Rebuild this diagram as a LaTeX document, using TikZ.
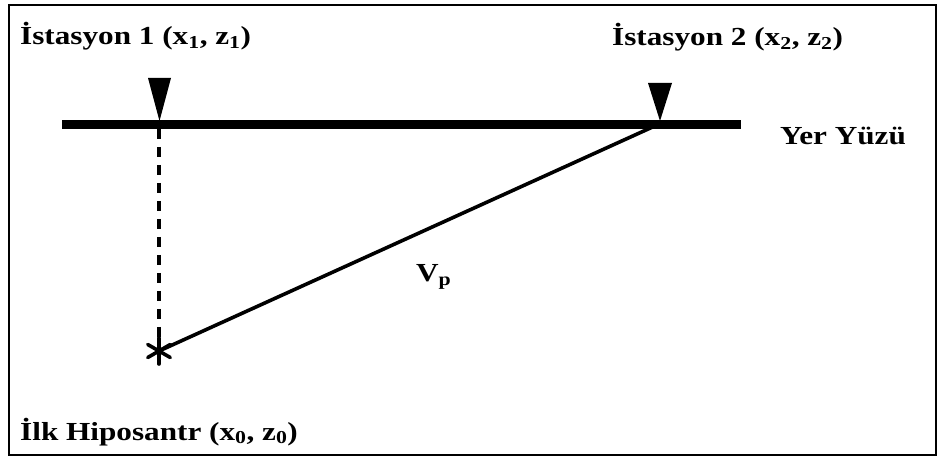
\documentclass[tikz,border=0pt]{standalone}
\usepackage{fontspec}
\setmainfont{Liberation Serif}[FakeStretch=1.2]
\usetikzlibrary{calc}
\begin{document}
\begin{tikzpicture}[x=1pt,y=-1pt,
  lbl/.style={anchor=base west,inner sep=0pt,font=\fontsize{26}{31}\selectfont\bfseries},
  ground/.style={line width=9pt},
  ray/.style={line width=3.6pt},
  vert/.style={line width=3.2pt,dash pattern=on 10pt off 8pt},
  starline/.style={line width=3.6pt,line cap=round},
  station/.style={fill=black}]
\useasboundingbox (0,0) rectangle (943,462);
\draw[line width=1.8pt] (9,5) rectangle (936,455);
% coordinates
\coordinate (gl) at (62,125);
\coordinate (gr) at (741,125);
\coordinate (s1) at (159,129);
\coordinate (s2) at (657,125);
\coordinate (h) at (159,351);
% ground line
\draw[ground] (gl) -- (gr);
% stations
\fill[station] (148,78) -- (171,78) -- (159.5,121) -- cycle;
\fill[station] (648,83) -- (672,83) -- (660,121) -- cycle;
% rays
\draw[vert] (s1) -- (h);
\draw[ray] (s2) -- (h);
% hypocentre star
\foreach \a in {90,30,150}
  \draw[starline] ($(h)+(\a:13)$) -- ($(h)+(\a+180:13)$);
% labels
\node[lbl] (t1) at (20,45) {İstasyon 1 (x\textsubscript{1}, z\textsubscript{1})};
\node[lbl] (t2) at (612,46) {İstasyon 2 (x\textsubscript{2}, z\textsubscript{2})};
\node[lbl] (ty) at (780,145) {Yer Yüzü};
\node[lbl] (th) at (20,440) {İlk Hiposantr (x\textsubscript{0}, z\textsubscript{0})};
\node[lbl] (tv) at (416,282) {V\textsubscript{p}};
\end{tikzpicture}
\end{document}
